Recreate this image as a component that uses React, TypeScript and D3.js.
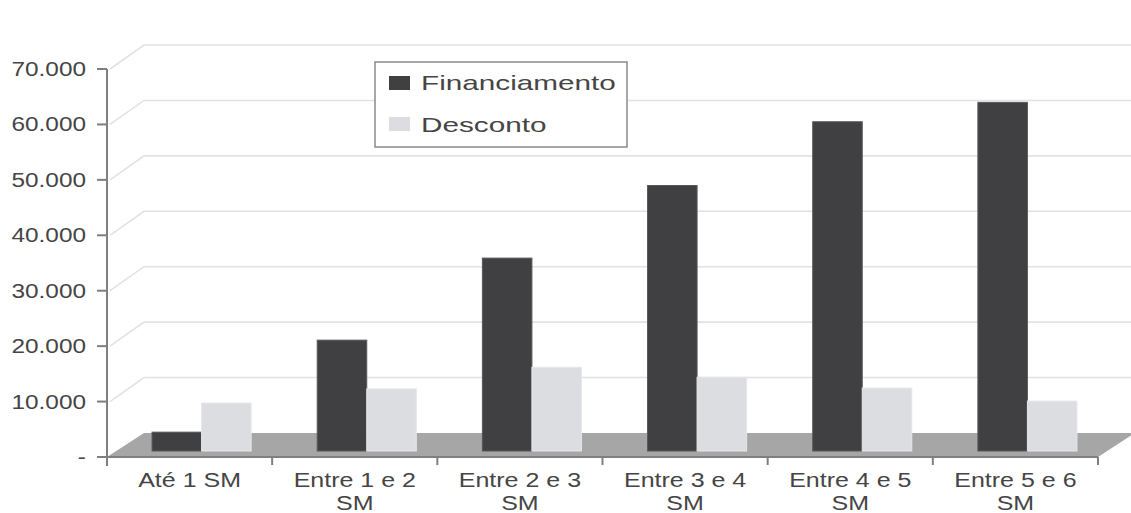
import * as d3 from 'd3'

const categories = [
  ['Até 1 SM'],
  ['Entre 1 e 2', 'SM'],
  ['Entre 2 e 3', 'SM'],
  ['Entre 3 e 4', 'SM'],
  ['Entre 4 e 5', 'SM'],
  ['Entre 5 e 6', 'SM'],
]
const seriesNames = ['Financiamento', 'Desconto']
const financiamento = [3400, 20000, 34800, 47900, 59400, 62900]
const desconto = [8650, 11200, 15100, 13300, 11350, 9000]
const yTicks = [0, 10000, 20000, 30000, 40000, 50000, 60000, 70000]
const yTickLabels = ['-', '10.000', '20.000', '30.000', '40.000', '50.000', '60.000', '70.000']

const colors = ['#404042', '#dcdde0']
const W = 1131
const H = 513
const DX = 37
const DY = -24
const SX = 1.25 // source image is stretched horizontally

export default function App() {
  const keys = categories.map((c) => c.join(' '))
  const x0 = d3.scaleBand().domain(keys).range([107, 1098]).padding(0)
  const x1 = d3.scaleBand().domain(seriesNames).range([0, x0.bandwidth()]).paddingInner(0).paddingOuter(0.667)
  const y = d3.scaleLinear().domain([0, 70000]).range([457, 69])
  const barOff = { dx: 12, dy: -6 }
  const series = [financiamento, desconto]
  const font = 'Liberation Sans, Arial, sans-serif'
  const textCol = '#454545'

  const floor = [
    [107, y(0)],
    [1098, y(0)],
    [1098 + DX, y(0) + DY],
    [107 + DX, y(0) + DY],
  ]

  return (
    <svg width={W} height={H} style={{ position: 'absolute', left: 0, top: 0 }} fontFamily={font}>
      <rect width={W} height={H} fill="#fff" />
      {/* back wall gridlines */}
      {yTicks.slice(1).map((t) => (
        <polyline
          key={t}
          points={`110,${y(t)} ${107 + DX},${y(t) + DY} ${W},${y(t) + DY}`}
          fill="none"
          stroke="#e2e2e2"
          strokeWidth={1.6}
        />
      ))}
      {/* floor */}
      <polygon points={floor.map((p) => p.join(',')).join(' ')} fill="#a6a6a6" />
      {/* bars */}
      {series.map((vals, si) =>
        vals.map((v, i) => {
          const bx = (x0(keys[i]) ?? 0) + (x1(seriesNames[si]) ?? 0) + barOff.dx
          const top = y(v) + barOff.dy
          const base = y(0) + barOff.dy
          return (
            <rect
              key={`${si}-${i}`}
              x={bx}
              y={top}
              width={x1.bandwidth()}
              height={base - top}
              fill={colors[si]}
              stroke={si === 0 ? '#58585a' : '#e6e6e8'}
              strokeWidth={1}
            />
          )
        })
      )}
      {/* axes */}
      <line x1={107} x2={107} y1={y(70000)} y2={466} stroke="#7f7f7f" strokeWidth={2} />
      <line x1={98} x2={1098} y1={y(0)} y2={y(0)} stroke="#7f7f7f" strokeWidth={2} />
      {yTicks.map((t, i) => (
        <g key={t}>
          <line x1={97} x2={107} y1={y(t)} y2={y(t)} stroke="#7f7f7f" strokeWidth={2} />
          <text
            transform={`translate(86,${y(t) + 7}) scale(${SX},1)`}
            textAnchor="end"
            fontSize={19.5}
            fill={textCol}
          >
            {yTickLabels[i]}
          </text>
        </g>
      ))}
      {keys.map((k) => (
        <line key={k} x1={(x0(k) ?? 0) + x0.bandwidth()} x2={(x0(k) ?? 0) + x0.bandwidth()} y1={y(0)} y2={465} stroke="#7f7f7f" strokeWidth={2} />
      ))}
      {categories.map((lines, i) => {
        const cx = (x0(keys[i]) ?? 0) + x0.bandwidth() / 2
        return lines.map((ln, j) => (
          <text
            key={`${i}-${j}`}
            transform={`translate(${cx},${487 + j * 23}) scale(${SX},1)`}
            textAnchor="middle"
            fontSize={20}
            fill={textCol}
          >
            {ln}
          </text>
        ))
      })}
      {/* legend */}
      <rect x={375} y={62} width={252} height={85} fill="#fff" stroke="#8a8a8a" strokeWidth={1.5} />
      {seriesNames.map((s, i) => (
        <g key={s}>
          <rect x={389} y={76 + i * 41} width={21} height={14} fill={colors[i]} />
          <text transform={`translate(421,${90 + i * 42}) scale(1.45,1)`} fontSize={20.5} fill={textCol}>
            {s}
          </text>
        </g>
      ))}
    </svg>
  )
}
